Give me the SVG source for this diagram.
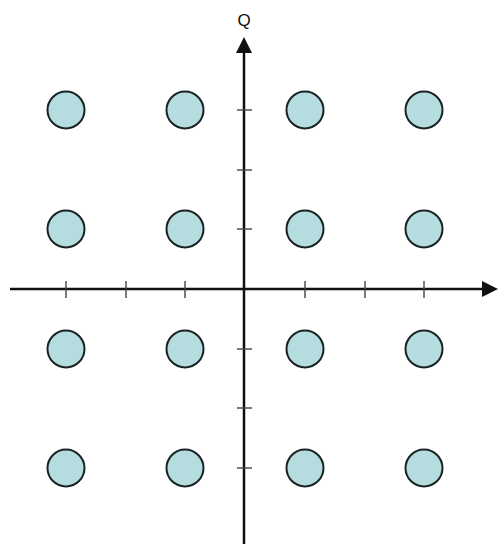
<svg xmlns="http://www.w3.org/2000/svg" width="499" height="546" viewBox="0 0 499 546">
<style>
.ax{stroke:#111;stroke-width:2.5;fill:none}
.tk{stroke:#444;stroke-width:1.4}
.pt{fill:#b5dde0;stroke:#1a2323;stroke-width:2}
.lbl{font-family:"Liberation Sans",Arial,sans-serif;font-size:17px;fill:#111}
</style>
<rect width="499" height="546" fill="#fff"/>
<g id="connectors">
<line class="ax" x1="10" y1="289" x2="484" y2="289"/>
<polygon points="482,281 498,289 482,297" fill="#111"/>
<line class="ax" x1="244" y1="544" x2="244" y2="51"/>
<polygon points="236,53 244,37 252,53" fill="#111"/>
<g class="tk">
<line x1="66" y1="281" x2="66" y2="298"/>
<line x1="126" y1="281" x2="126" y2="298"/>
<line x1="185" y1="281" x2="185" y2="298"/>
<line x1="305" y1="281" x2="305" y2="298"/>
<line x1="365" y1="281" x2="365" y2="298"/>
<line x1="424" y1="281" x2="424" y2="298"/>
<line x1="237" y1="110" x2="252" y2="110"/>
<line x1="237" y1="170" x2="252" y2="170"/>
<line x1="237" y1="229" x2="252" y2="229"/>
<line x1="237" y1="349" x2="252" y2="349"/>
<line x1="237" y1="408" x2="252" y2="408"/>
<line x1="237" y1="468" x2="252" y2="468"/>
</g>
</g>
<g id="label-Q"><text class="lbl" x="244" y="26" text-anchor="middle">Q</text></g>
<g id="p11"><circle class="pt" cx="66" cy="110" r="18.5"/></g>
<g id="p12"><circle class="pt" cx="185" cy="110" r="18.5"/></g>
<g id="p13"><circle class="pt" cx="305" cy="110" r="18.5"/></g>
<g id="p14"><circle class="pt" cx="424" cy="110" r="18.5"/></g>
<g id="p21"><circle class="pt" cx="66" cy="229" r="18.5"/></g>
<g id="p22"><circle class="pt" cx="185" cy="229" r="18.5"/></g>
<g id="p23"><circle class="pt" cx="305" cy="229" r="18.5"/></g>
<g id="p24"><circle class="pt" cx="424" cy="229" r="18.5"/></g>
<g id="p31"><circle class="pt" cx="66" cy="349" r="18.5"/></g>
<g id="p32"><circle class="pt" cx="185" cy="349" r="18.5"/></g>
<g id="p33"><circle class="pt" cx="305" cy="349" r="18.5"/></g>
<g id="p34"><circle class="pt" cx="424" cy="349" r="18.5"/></g>
<g id="p41"><circle class="pt" cx="66" cy="468" r="18.5"/></g>
<g id="p42"><circle class="pt" cx="185" cy="468" r="18.5"/></g>
<g id="p43"><circle class="pt" cx="305" cy="468" r="18.5"/></g>
<g id="p44"><circle class="pt" cx="424" cy="468" r="18.5"/></g>
</svg>
